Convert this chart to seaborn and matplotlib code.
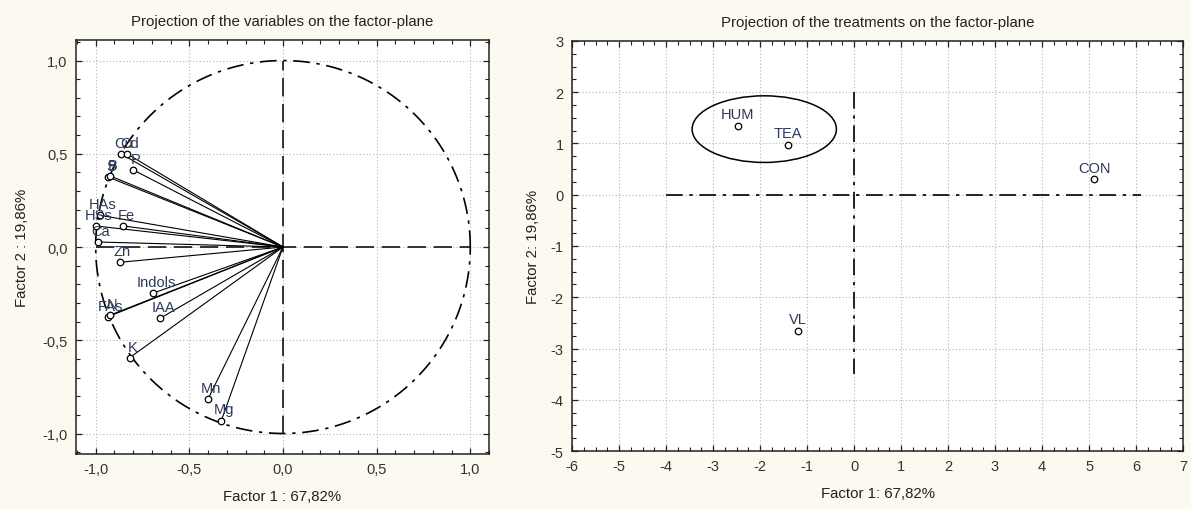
import numpy as np
import pandas as pd
import matplotlib
matplotlib.use("Agg")
import matplotlib.pyplot as plt
import seaborn as sns
from matplotlib.patches import Ellipse
from matplotlib.ticker import MultipleLocator, FuncFormatter

# ---------------- data ----------------
var_names = ["Cu", "Cd", "P", "S", "B", "HAs", "HSs", "Fe", "Ca", "Zn",
             "Indols", "FAs", "N", "IAA", "K", "Mn", "Mg"]
var_f1 = [-0.863, -0.831, -0.799, -0.933, -0.922, -0.976, -1.000, -0.853, -0.990,
          -0.872, -0.693, -0.935, -0.925, -0.654, -0.819, -0.400, -0.329]
var_f2 = [0.499, 0.499, 0.413, 0.375, 0.381, 0.170, 0.113, 0.113, 0.027,
          -0.082, -0.247, -0.374, -0.366, -0.381, -0.594, -0.815, -0.931]

treat_names = ["HUM", "TEA", "CON", "VL"]
treat_f1 = [-2.47, -1.40, 5.11, -1.19]
treat_f2 = [1.35, 0.98, 0.30, -2.65]

right_xticks = list(range(-6, 8))
right_yticks = list(range(-5, 4))

title_left = "Projection of the variables on the factor-plane"
title_right = "Projection of the treatments on the factor-plane"
xlabel_left = "Factor 1 : 67,82%"
ylabel_left = "Factor 2 : 19,86%"
xlabel_right = "Factor 1: 67,82%"
ylabel_right = "Factor 2: 19,86%"

vars_df = pd.DataFrame({"name": var_names, "f1": var_f1, "f2": var_f2})
treat_df = pd.DataFrame({"name": treat_names, "f1": treat_f1, "f2": treat_f2})

# ---------------- style ----------------
plt.rcParams["font.family"] = ["Liberation Sans", "DejaVu Sans"]
plt.rcParams["axes.unicode_minus"] = False
BG = "#fcf9f1"
TXT = "#222222"
LBL = "#2c3858"
FS_T = 10.8   # titles / axis labels
FS_K = 10.5   # tick labels
FS_P = 10.5   # point labels
dashdot = (0, (10, 4, 2, 4))

fig = plt.figure(figsize=(11.91, 5.10), dpi=100, facecolor=BG)
axL = fig.add_axes([0.0638, 0.1078, 0.3468, 0.8118])
axR = fig.add_axes([0.4803, 0.1137, 0.5130, 0.8040])


def style_axes(ax, major, minor):
    ax.set_facecolor("white")
    ax.xaxis.set_major_locator(MultipleLocator(major))
    ax.yaxis.set_major_locator(MultipleLocator(major))
    ax.xaxis.set_minor_locator(MultipleLocator(minor))
    ax.yaxis.set_minor_locator(MultipleLocator(minor))
    ax.tick_params(which="both", direction="in", top=True, right=True,
                   colors="#222222", labelcolor="#333333", labelsize=FS_K)
    ax.tick_params(which="major", length=4, width=0.9, pad=6)
    ax.tick_params(which="minor", length=3, width=0.8)
    ax.tick_params(axis="x", which="both", labeltop=False)
    ax.tick_params(axis="y", which="both", labelright=False)
    for s in ax.spines.values():
        s.set_color("#222222")
        s.set_linewidth(1.1)
    ax.grid(True, which="major", linestyle=(0, (1, 2)), color="#b5b5b5", linewidth=0.8)
    ax.set_axisbelow(True)


# ---------------- left panel ----------------
style_axes(axL, 0.5, 0.1)
axL.set_xlim(-1.105, 1.10)
axL.set_ylim(-1.11, 1.11)
comma = FuncFormatter(lambda v, p: f"{v:.1f}".replace(".", ",").replace("-0,0", "0,0"))
axL.xaxis.set_major_formatter(comma)
axL.yaxis.set_major_formatter(comma)

theta = np.linspace(0, 2 * np.pi, 400)
axL.plot(np.cos(theta), np.sin(theta), color="black", lw=1.2, linestyle=dashdot)
axL.plot([-1, 1], [0, 0], color="black", lw=1.1, linestyle=(0, (12, 5)))
axL.plot([0, 0], [-1, 1], color="black", lw=1.1, linestyle=(0, (12, 5)))

for x, y in zip(var_f1, var_f2):
    axL.plot([0, x], [0, y], color="black", lw=0.8)

sns.scatterplot(data=vars_df, x="f1", y="f2", ax=axL, marker="o", s=22,
                facecolor="white", edgecolor="black", linewidth=0.9, zorder=5)
for n, x, y in zip(var_names, var_f1, var_f2):
    axL.annotate(n, (x, y), xytext=(2, 3), textcoords="offset points",
                 ha="center", va="bottom", fontsize=FS_P, color=LBL, zorder=6)

axL.set_title(title_left, fontsize=FS_T, color=TXT, pad=11)
axL.set_xlabel(xlabel_left, fontsize=FS_T, color=TXT, labelpad=9)
axL.set_ylabel(ylabel_left, fontsize=FS_T, color=TXT, labelpad=10)

# ---------------- right panel ----------------
style_axes(axR, 1, 0.25)
axR.set_xlim(-6, 7)
axR.set_ylim(-5, 3)
axR.set_xticks(right_xticks)
axR.set_yticks(right_yticks)

axR.plot([-4, 6.1], [0, 0], color="black", lw=1.2, linestyle=dashdot)
axR.plot([0, 0], [2, -3.5], color="black", lw=1.2, linestyle=dashdot)
axR.add_patch(Ellipse((-1.91, 1.28), 3.07, 1.30, fill=False, edgecolor="black", lw=1.1))

sns.scatterplot(data=treat_df, x="f1", y="f2", ax=axR, marker="o", s=22,
                facecolor="white", edgecolor="black", linewidth=0.9, zorder=5)
for n, x, y in zip(treat_names, treat_f1, treat_f2):
    axR.annotate(n, (x, y), xytext=(0, 3), textcoords="offset points",
                 ha="center", va="bottom", fontsize=FS_P, color=LBL, zorder=6)

axR.set_title(title_right, fontsize=FS_T, color=TXT, pad=11)
axR.set_xlabel(xlabel_right, fontsize=FS_T, color=TXT, labelpad=9)
axR.set_ylabel(ylabel_right, fontsize=FS_T, color=TXT, labelpad=8)

fig.savefig("out.png", dpi=100, facecolor=BG)
